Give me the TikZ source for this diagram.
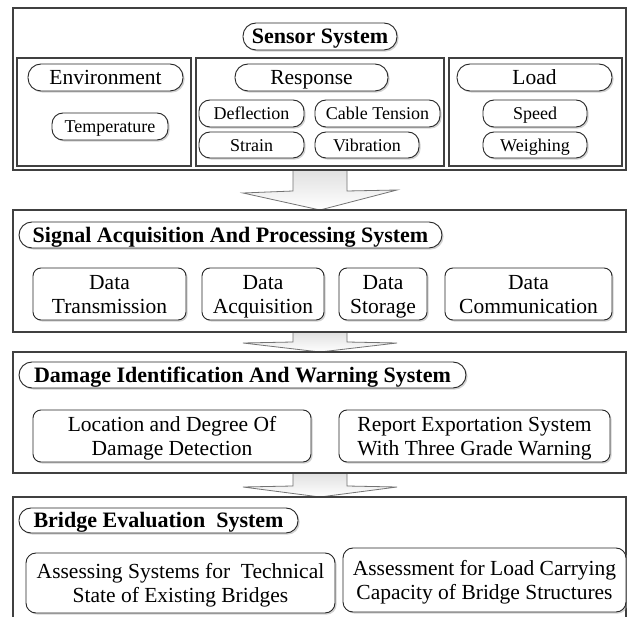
\documentclass[tikz,border=0pt]{standalone}
\usepackage{fontspec}
\setmainfont{Liberation Serif}
\usetikzlibrary{shadows,calc}
\newcommand\capln[1]{\raisebox{0pt}[0.68em][0pt]{#1}}
\begin{document}
\begin{tikzpicture}[x=1pt,y=-1pt]
\tikzset{
 grp/.style={draw=black!75, line width=1.8pt, inner sep=0pt},
 pill/.style={draw=black!85, line width=0.9pt, rounded corners=11pt, fill=white, inner sep=0pt,
   drop shadow={shadow xshift=1.6pt, shadow yshift=-1.6pt, fill=black!35, opacity=0.5}},
 onel/.style={pill, text depth=0pt},
 rbox/.style={pill, rounded corners=8pt, align=center},
 ttl/.style={font=\fontsize{22}{26}\selectfont\bfseries, text height=15pt},
 big/.style={font=\fontsize{21.5}{24}\selectfont},
 bigone/.style={big, text height=14.6pt},
 sml/.style={font=\fontsize{18}{21}\selectfont, text height=12.2pt},
 blockarr/.style={draw=black!55, line width=0.8pt, top color=black!12, bottom color=white}
}
\useasboundingbox (0,0) rectangle (627,617);
\fill[white] (0,0) rectangle (627,617);

% ---------- anchor points for the block arrows ----------
\coordinate (sensorS) at (320,170);
\coordinate (signalN) at (320,210);
\coordinate (signalS) at (320,332);
\coordinate (damageN) at (320,352);
\coordinate (damageS) at (320,473);
\coordinate (bridgeN) at (320,497);

% ---------- block arrows ----------
\draw[blockarr] ($(sensorS)+(-27,0)$) -- ($(sensorS)+(-27,21)$) -- ($(sensorS)+(-77,23)$)
  -- (signalN) -- ($(sensorS)+(77,20)$) -- ($(sensorS)+(27,21)$) -- ($(sensorS)+(27,0)$);
\draw[blockarr] ($(signalS)+(-27,0)$) -- ($(signalS)+(-27,10)$) -- ($(signalS)+(-77,11)$)
  -- (damageN) -- ($(signalS)+(77,11)$) -- ($(signalS)+(27,10)$) -- ($(signalS)+(27,0)$);
\draw[blockarr] ($(damageS)+(-27,0)$) -- ($(damageS)+(-27,13)$) -- ($(damageS)+(-77,14)$)
  -- (bridgeN) -- ($(damageS)+(77,14)$) -- ($(damageS)+(27,13)$) -- ($(damageS)+(27,0)$);

% ---------- Sensor System ----------
\node[grp, minimum width=613, minimum height=162] (sensor) at (319.5,89) {};
\node[onel, ttl, minimum width=154, minimum height=27, rounded corners=13pt] (sensT) at (320,36.5) {Sensor System};
\node[grp, minimum width=174, minimum height=108] (env) at (104,112) {};
\node[grp, minimum width=248, minimum height=108] (resp) at (320,112) {};
\node[grp, minimum width=173, minimum height=108] (load) at (535.5,112) {};
\node[onel, bigone, minimum width=155, minimum height=27, rounded corners=13pt] (envT) at (105.5,77.5) {Environment};
\node[onel, sml, minimum width=116, minimum height=27] (temp) at (110,126.5) {Temperature};
\node[onel, bigone, minimum width=153, minimum height=27, rounded corners=13pt] (respT) at (311.5,77.5) {Response};
\node[onel, sml, minimum width=105, minimum height=27] (defl) at (251.5,113.5) {Deflection};
\node[onel, sml, minimum width=105, minimum height=26] (strain) at (251.5,145) {Strain};
\node[onel, sml, minimum width=125, minimum height=27] (cable) at (377.5,113.5) {Cable Tension};
\node[onel, sml, minimum width=104, minimum height=26] (vib) at (367,145) {Vibration};
\node[onel, bigone, minimum width=155, minimum height=27, rounded corners=13pt] (loadT) at (534.5,77.5) {Load};
\node[onel, sml, minimum width=104, minimum height=27] (speed) at (535,113.5) {Speed};
\node[onel, sml, minimum width=104, minimum height=26] (weigh) at (535,145) {Weighing};

% ---------- Signal Acquisition ----------
\node[grp, minimum width=613, minimum height=122] (signal) at (319.5,271) {};
\node[onel, ttl, minimum width=423, minimum height=26, rounded corners=13pt] (sigT) at (230.5,235) {Signal Acquisition And Processing System};
\node[rbox, big, minimum width=153, minimum height=52] (dt) at (109.5,294) {\capln{Data}\\\capln{Transmission}};
\node[rbox, big, minimum width=122, minimum height=52] (da) at (263,294) {\capln{Data}\\\capln{Acquisition}};
\node[rbox, big, minimum width=88, minimum height=52] (ds) at (383,294) {\capln{Data}\\\capln{Storage}};
\node[rbox, big, minimum width=167, minimum height=52] (dc) at (528.5,294) {\capln{Data}\\\capln{Communication}};

% ---------- Damage Identification ----------
\node[grp, minimum width=613, minimum height=121] (damage) at (319.5,412.5) {};
\node[onel, ttl, minimum width=447, minimum height=26, rounded corners=13pt] (damT) at (242.5,375) {Damage Identification And Warning System};
\node[rbox, big, minimum width=278, minimum height=52] (loc) at (172,436) {\capln{Location and Degree Of}\\\capln{Damage Detection}};
\node[rbox, big, minimum width=271, minimum height=52] (rep) at (474.5,436) {\capln{Report Exportation System}\\\capln{With Three Grade Warning}};

% ---------- Bridge Evaluation ----------
\node[grp, minimum width=613, minimum height=143] (bridge) at (319.5,568.5) {};
\node[onel, ttl, minimum width=279, minimum height=25, rounded corners=12pt] (briT) at (158.5,520.5) {Bridge Evaluation\ \ System};
\node[rbox, big, minimum width=309, minimum height=60, rounded corners=10pt] (as1) at (180.5,583) {\capln{Assessing Systems for\ \ Technical}\\\capln{State of Existing Bridges}};
\node[rbox, big, minimum width=283, minimum height=64, rounded corners=10pt] (as2) at (484.5,580) {\capln{Assessment for Load Carrying}\\\capln{Capacity of Bridge Structures}};
\end{tikzpicture}
\end{document}
